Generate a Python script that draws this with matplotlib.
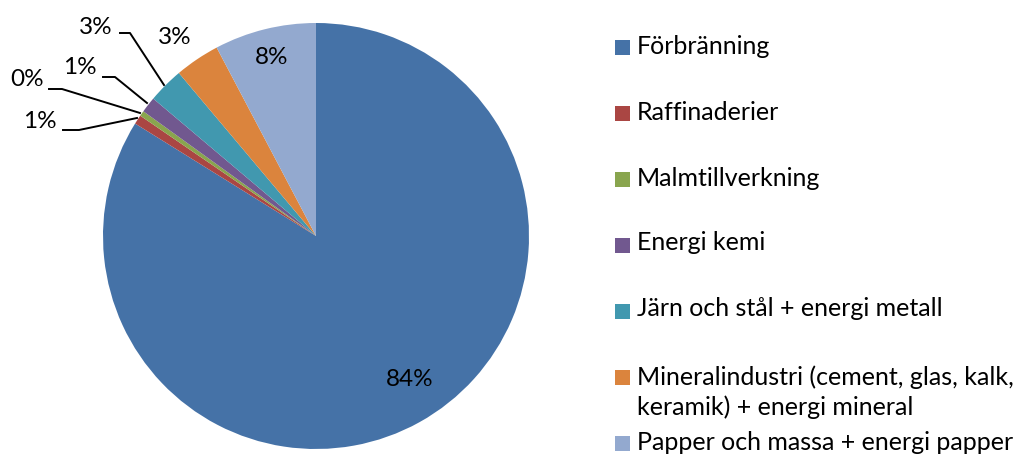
import matplotlib
matplotlib.use("Agg")
import matplotlib.pyplot as plt
from matplotlib.patches import Rectangle

categories = ["Förbränning", "Raffinaderier", "Malmtillverkning", "Energi kemi",
              "Järn och stål + energi metall",
              "Mineralindustri (cement, glas, kalk,\nkeramik) + energi mineral",
              "Papper och massa + energi papper"]
values = [83.6, 0.7, 0.4, 1.2, 2.7, 3.4, 7.7]
labels = ["84%", "1%", "0%", "1%", "3%", "3%", "8%"]
colors = ["#4572A7", "#AA4643", "#89A54E", "#71588F", "#4198AF", "#DB843D", "#93A9CF"]

plt.rcParams['font.family'] = ['Lato', 'DejaVu Sans']

W, H = 1019, 455
fig = plt.figure(figsize=(W / 100, H / 100), dpi=100)
ax = fig.add_axes([0, 0, 1, 1])

cx, cy, r = 316, H - 236, 213
ax.pie(values, colors=colors, startangle=90, counterclock=False,
       center=(cx, cy), radius=r, wedgeprops=dict(linewidth=0))
ax.set_xlim(0, W)
ax.set_ylim(0, H)
ax.set_aspect('equal')
ax.axis('off')

def py(y):
    return H - y

fs = 17.5
lfs = 18
# inside / near labels (pixel positions)
ax.text(410, py(380), labels[0], fontsize=fs, ha='center', va='center')
ax.text(272, py(57), labels[6], fontsize=fs, ha='center', va='center')
ax.text(175, py(37), labels[5], fontsize=fs, ha='center', va='center')

# labels with leader lines: (text x, text y, line points)
leaders = [
    (1, 40, 121, [(63, 130), (79, 130), (137, 118)]),
    (2, 27, 79, [(49, 89), (62, 89), (140, 113)]),
    (3, 80, 67, [(103, 77), (115, 77), (147, 103)]),
    (4, 96, 27, [(120, 33), (130, 33), (164, 85)]),
]
for idx, tx, ty, pts in leaders:
    ax.text(tx, py(ty), labels[idx], fontsize=fs, ha='center', va='center')
    xs = [p[0] for p in pts]
    ys = [py(p[1]) for p in pts]
    ax.plot(xs, ys, color='black', linewidth=1.4)

# legend
sq_y = [47, 113, 179, 245, 311, 377, 443]
txt_y = [47, 112, 178, 243, 308, 392, 442]
for i, cat in enumerate(categories):
    ax.add_patch(Rectangle((615, py(sq_y[i]) - 7.5), 15, 15, color=colors[i], linewidth=0))
    ax.text(637, py(txt_y[i]), cat, fontsize=lfs, ha='left', va='center',
            linespacing=1.3)

fig.savefig("out.png", dpi=100)
